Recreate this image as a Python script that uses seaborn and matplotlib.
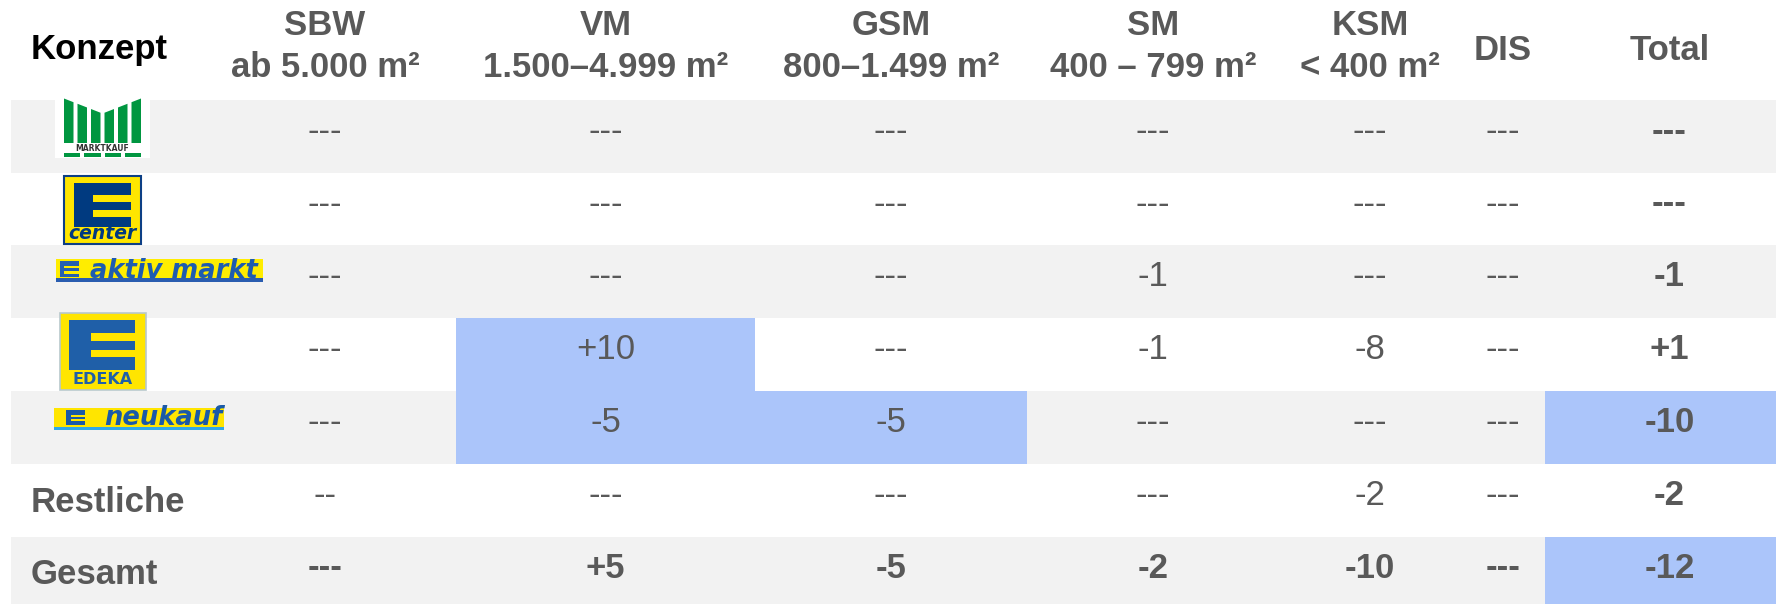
import numpy as np
import pandas as pd
import seaborn as sns
import matplotlib
matplotlib.use("Agg")
import matplotlib.pyplot as plt
from matplotlib.patches import Rectangle, Polygon

# ---------------- data ----------------
concepts = ["Marktkauf", "E center", "E aktiv markt", "EDEKA", "E neukauf", "Restliche", "Gesamt"]
column_titles = ["SBW", "VM", "GSM", "SM", "KSM", "DIS", "Total"]
column_ranges = ["ab 5.000 m²", "1.500–4.999 m²", "800–1.499 m²", "400 – 799 m²", "< 400 m²", "", ""]

sbw = ["---", "---", "---", "---", "---", "--", "---"]
vm = ["---", "---", "---", "+10", "-5", "---", "+5"]
gsm = ["---", "---", "---", "---", "-5", "---", "-5"]
sm = ["---", "---", "-1", "-1", "---", "---", "-2"]
ksm = ["---", "---", "---", "-8", "---", "-2", "-10"]
dis = ["---", "---", "---", "---", "---", "---", "---"]
total = ["---", "---", "-1", "+1", "-10", "-2", "-12"]

highlighted = [("VM", "EDEKA"), ("VM", "E neukauf"), ("GSM", "E neukauf"),
               ("Total", "E neukauf"), ("Total", "Gesamt")]

table = pd.DataFrame({"SBW": sbw, "VM": vm, "GSM": gsm, "SM": sm,
                      "KSM": ksm, "DIS": dis, "Total": total}, index=concepts)

# ---------------- style ----------------
sns.set_theme(style="white")
plt.rcParams["font.family"] = ["Liberation Sans", "DejaVu Sans"]

TXT = "#595959"
GRAY = "#f2f2f2"
BLUE = "#abc5fa"
FS = 25

W, H = 1776, 604
fig = plt.figure(figsize=(W / 100, H / 100), dpi=100)
ax = fig.add_axes([0, 0, 1, 1])
ax.set_xlim(0, W)
ax.set_ylim(H, 0)
ax.axis("off")
sns.despine(ax=ax, left=True, bottom=True)

# layout
col_edges = [11, 194, 456, 755, 1027, 1279, 1461, 1545, 1794]
row_top0 = 99.7
row_h = 72.8
n_rows = len(concepts)

def row_top(i):
    return row_top0 + i * row_h

# row backgrounds
for i in range(n_rows):
    color = GRAY if i % 2 == 0 else "white"
    ax.add_patch(Rectangle((col_edges[0], row_top(i)), W - col_edges[0], row_h,
                           facecolor=color, edgecolor="none", zorder=0))

# highlighted cells
for col, row in highlighted:
    ci = column_titles.index(col) + 1
    ri = concepts.index(row)
    ax.add_patch(Rectangle((col_edges[ci], row_top(ri)), col_edges[ci + 1] - col_edges[ci], row_h,
                           facecolor=BLUE, edgecolor="none", zorder=1))

# header
ax.text(30.6, 59, "Konzept", fontsize=FS, fontweight="bold", color="black",
        ha="left", va="baseline")
for j, (t, r) in enumerate(zip(column_titles, column_ranges)):
    cx = (col_edges[j + 1] + col_edges[j + 2]) / 2
    if r:
        ax.text(cx, 35, t, fontsize=FS, fontweight="bold", color=TXT, ha="center", va="baseline")
        ax.text(cx, 77, r, fontsize=FS, fontweight="bold", color=TXT, ha="center", va="baseline")
    else:
        ax.text(cx, 60, t, fontsize=FS, fontweight="bold", color=TXT, ha="center", va="baseline")

# body values
for i, name in enumerate(concepts):
    for j, col in enumerate(column_titles):
        cx = (col_edges[j + 1] + col_edges[j + 2]) / 2
        bold = (col == "Total") or (name == "Gesamt")
        ax.text(cx, row_top(i) + 41, table.loc[name, col], fontsize=FS,
                fontweight="bold" if bold else "normal", color=TXT,
                ha="center", va="baseline", zorder=3)

# text row labels
for name in ["Restliche", "Gesamt"]:
    i = concepts.index(name)
    ax.text(30.6, row_top(i) + 48, name, fontsize=FS, fontweight="bold", color=TXT,
            ha="left", va="baseline", zorder=3)

# ---------------- logos ----------------
def rect(x0, y0, x1, y1, fc, ec="none", lw=0, z=4):
    ax.add_patch(Rectangle((x0, y0), x1 - x0, y1 - y0, facecolor=fc, edgecolor=ec,
                           linewidth=lw, zorder=z))

def draw_E(x0, y0, x1, y1, color, bg, notch_x, notches):
    rect(x0, y0, x1, y1, color, z=5)
    for a, b in notches:
        rect(notch_x, a, x1 + 0.5, b, bg, z=6)

# Marktkauf
rect(55, 96, 150, 158, "white")
green = "#009640"
bx0, bx1, bw = 64, 141, 9.5
nb = 6
step = (bx1 - bx0 - bw) / (nb - 1)
mid = (bx0 + bx1) / 2
def top_at(x):
    return 98.5 + 15 * (1 - abs(x - mid) / (mid - bx0))
for k in range(nb):
    xa = bx0 + k * step
    xb = xa + bw
    ax.add_patch(Polygon([[xa, 143], [xb, 143], [xb, top_at(xb)], [xa, top_at(xa)]],
                         closed=True, facecolor=green, edgecolor="none", zorder=5))
ax.text(mid, 148.3, "MARKTKAUF", fontsize=5.5, fontweight="bold", color="#333333",
        ha="center", va="center", zorder=6, family="DejaVu Sans")
dw = (bx1 - bx0 - 3 * 4) / 4
for k in range(4):
    xa = bx0 + k * (dw + 4)
    rect(xa, 152.5, xa + dw, 156.5, green, z=5)

# E center
rect(64, 176, 140.5, 244, "#ffe600", ec="#0d3f85", lw=1.5)
draw_E(73.7, 183.3, 131.3, 227.3, "#003a80", "#ffe600", 93, [(195, 201.7), (210, 216.7)])
ax.text(102.5, 233.5, "center", fontsize=13.5, fontweight="bold", fontstyle="italic",
        color="#003a80", ha="center", va="center", zorder=6, family="DejaVu Sans")

# E aktiv markt
rect(56, 259.3, 263.3, 277.5, "#ffed00")
rect(56, 277.5, 263.3, 282, "#2a5db0")
draw_E(59.5, 261, 78.5, 277, "#2660b0", "#ffed00", 64, [(265.5, 268), (271.3, 273.5)])
ax.text(174, 270.5, "aktiv markt", fontsize=18.5, fontweight="bold", fontstyle="italic",
        color="#1e5cb0", ha="center", va="center", zorder=6, family="DejaVu Sans")

# EDEKA
rect(60, 313, 145.7, 390.3, "#ffe500", ec="#b8c8cc", lw=1.2)
draw_E(69, 320.3, 135, 369.7, "#1f5fa8", "#ffe500", 91, [(333, 340.7), (349.7, 357.3)])
ax.text(102.3, 379.5, "EDEKA", fontsize=11.5, fontweight="bold", color="#1f5fa8",
        ha="center", va="center", zorder=6, family="DejaVu Sans")

# E neukauf
rect(54, 408, 224, 426.5, "#ffe500")
rect(54, 426.5, 224, 429.5, "#30a8e8")
draw_E(66.3, 410.3, 84.7, 425.3, "#1a5aa8", "#ffe500", 71, [(414.6, 416.8), (419.2, 421.3)])
ax.text(163, 418, "neukauf", fontsize=18.5, fontweight="bold", fontstyle="italic",
        color="#1a5aa8", ha="center", va="center", zorder=6, family="DejaVu Sans")

fig.savefig("out.png", dpi=100)
